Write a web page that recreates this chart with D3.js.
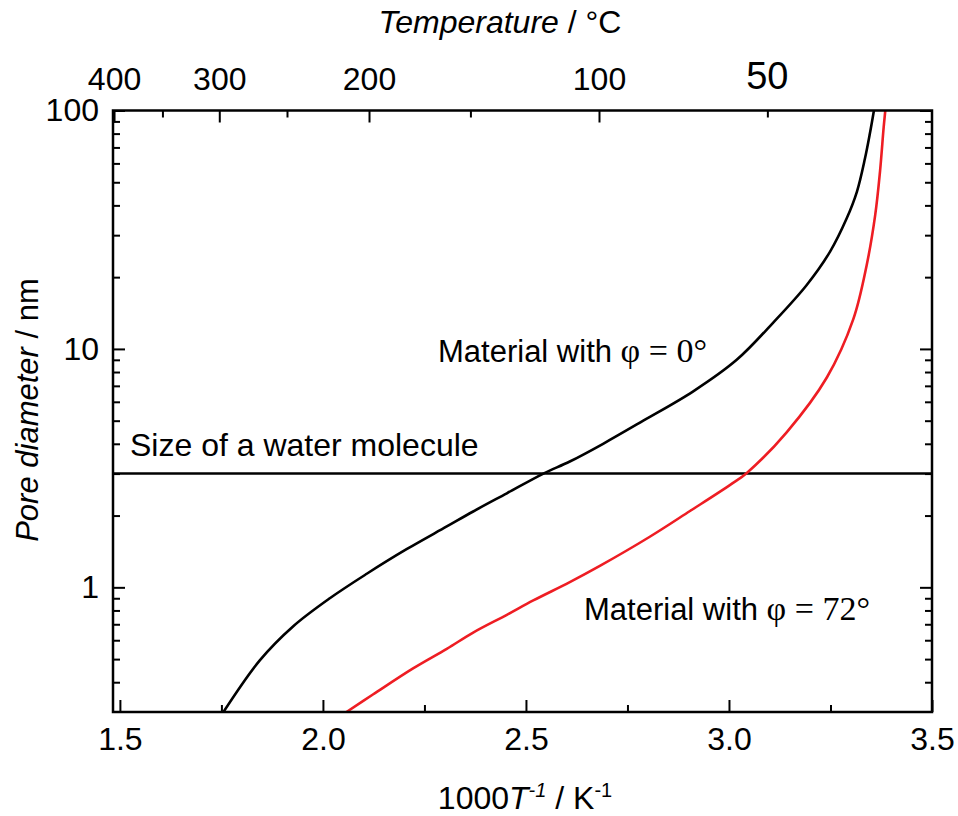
<!DOCTYPE html>
<html>
    <head>
        <title>Pore diameter vs temperature</title>
        <script src="https://d3js.org/d3.v7.min.js"></script>
        <style>
            body { margin: 0; background: #fff; }
            text { font-family: "Liberation Sans", Arial, sans-serif; fill: #000; }
            .serif { font-family: "Liberation Serif", "Times New Roman", serif; }
        </style>
    </head>
    <body>
        <svg id="myCanvas" width="958" height="816"></svg>

        <script>
            // data
            var xMajor = [1.5, 2.0, 2.5, 3.0, 3.5];
            var xMinor = [1.75, 2.25, 2.75, 3.25];
            var yMajor = [1, 10, 100];
            var yMinor = [0.4, 0.5, 0.6, 0.7, 0.8, 0.9, 2, 3, 4, 5, 6, 7, 8, 9, 20, 30, 40, 50, 60, 70, 80, 90];
            var tempMajor = [400, 300, 200, 100];
            var tempMinor = [350, 250, 150, 50];
            var waterSize = 3;

            // material with phi = 0 deg
            var blackX = [1.755, 1.845, 1.927, 2.017, 2.108, 2.206, 2.305, 2.370, 2.453, 2.543, 2.608, 2.690, 2.789, 2.912, 3.019, 3.109, 3.191, 3.249, 3.290, 3.315, 3.335, 3.347, 3.357];
            var blackY = [0.30, 0.495, 0.687, 0.90, 1.14, 1.445, 1.80, 2.08, 2.48, 3.0, 3.37, 4.0, 5.0, 6.64, 9.0, 12.9, 18.5, 25.6, 35.3, 45.6, 63, 80, 100];
            // material with phi = 72 deg
            var redX = [2.058, 2.124, 2.222, 2.305, 2.370, 2.453, 2.518, 2.608, 2.682, 2.805, 2.904, 3.003, 3.044, 3.142, 3.241, 3.306, 3.339, 3.360, 3.372, 3.381, 3.385];
            var redY = [0.30, 0.356, 0.457, 0.552, 0.646, 0.767, 0.881, 1.052, 1.23, 1.63, 2.09, 2.69, 3.02, 4.47, 7.59, 13.3, 22.4, 36.3, 55.6, 85.1, 100];

            var svg = d3.select("#myCanvas");
            var pLeft = 113, pRight = 932, pTop = 110.5, pBottom = 712;

            var x = d3.scaleLinear().domain([1.483, 3.5]).range([pLeft, pRight]);
            var y = d3.scaleLog().domain([0.3, 100]).range([pBottom, pTop]);
            var invT = t => 1000 / (t + 273.15);

            function styleAxis(g, size) {
                g.select(".domain").remove();
                g.selectAll("line").attr("stroke", "#000").attr("stroke-width", 2);
                g.selectAll("text").style("font-size", size + "px").style("font-family", "Liberation Sans, Arial, sans-serif");
            }

            // bottom
            svg.append("g").attr("transform", "translate(0," + pBottom + ")")
                .call(d3.axisBottom(x).tickValues(xMajor).tickSize(-12).tickPadding(15).tickFormat(d3.format(".1f")))
                .call(g => styleAxis(g, 32));
            svg.append("g").attr("transform", "translate(0," + pBottom + ")")
                .call(d3.axisBottom(x).tickValues(xMinor).tickSize(-7).tickFormat(""))
                .call(g => styleAxis(g, 32));

            // top (temperature)
            svg.append("g").attr("transform", "translate(0," + pTop + ")")
                .call(d3.axisTop(x).tickValues(tempMajor.map(invT)).tickSize(-12).tickPadding(21)
                    .tickFormat(v => Math.round(1000 / v - 273.15)))
                .call(g => styleAxis(g, 32));
            svg.append("g").attr("transform", "translate(0," + pTop + ")")
                .call(d3.axisTop(x).tickValues(tempMinor.map(invT)).tickSize(-7).tickFormat(""))
                .call(g => styleAxis(g, 32));
            svg.append("text")
                .attr("x", x(invT(50)))
                .attr("y", pTop - 22)
                .attr("text-anchor", "middle")
                .style("font-size", "38px")
                .text("50");

            // left
            svg.append("g").attr("transform", "translate(" + pLeft + ",0)")
                .call(d3.axisLeft(y).tickValues(yMajor).tickSize(-12).tickPadding(14).tickFormat(d3.format("d")))
                .call(g => styleAxis(g, 32));
            svg.append("g").attr("transform", "translate(" + pLeft + ",0)")
                .call(d3.axisLeft(y).tickValues(yMinor).tickSize(-7).tickFormat(""))
                .call(g => styleAxis(g, 32));

            // right
            svg.append("g").attr("transform", "translate(" + pRight + ",0)")
                .call(d3.axisRight(y).tickValues(yMajor).tickSize(-12).tickFormat(""))
                .call(g => styleAxis(g, 32));
            svg.append("g").attr("transform", "translate(" + pRight + ",0)")
                .call(d3.axisRight(y).tickValues(yMinor).tickSize(-7).tickFormat(""))
                .call(g => styleAxis(g, 32));

            // clip + curves
            svg.append("clipPath").attr("id", "plotClip")
                .append("rect")
                .attr("x", pLeft).attr("y", pTop)
                .attr("width", pRight - pLeft).attr("height", pBottom - pTop);

            var line = d3.line()
                .x(d => x(d[0]))
                .y(d => y(d[1]))
                .curve(d3.curveCatmullRom.alpha(0.5));

            var plot = svg.append("g").attr("clip-path", "url(#plotClip)");

            plot.append("line")
                .attr("x1", pLeft).attr("x2", pRight)
                .attr("y1", y(waterSize)).attr("y2", y(waterSize))
                .attr("stroke", "#000").attr("stroke-width", 2.5);

            plot.append("path")
                .datum(d3.zip(blackX, blackY))
                .attr("d", line)
                .attr("fill", "none").attr("stroke", "#000").attr("stroke-width", 2.6);

            plot.append("path")
                .datum(d3.zip(redX, redY))
                .attr("d", line)
                .attr("fill", "none").attr("stroke", "#ee1d23").attr("stroke-width", 2.6);

            // frame
            svg.append("rect")
                .attr("x", pLeft).attr("y", pTop)
                .attr("width", pRight - pLeft).attr("height", pBottom - pTop)
                .attr("fill", "none").attr("stroke", "#000").attr("stroke-width", 2.5);

            // titles
            var tt = svg.append("text").attr("x", 500).attr("y", 33)
                .attr("text-anchor", "middle").style("font-size", "32px");
            tt.append("tspan").style("font-style", "italic").text("Temperature");
            tt.append("tspan").text(" / °C");

            var xt = svg.append("text").attr("x", 525).attr("y", 809)
                .attr("text-anchor", "middle").style("font-size", "32px");
            xt.append("tspan").text("1000");
            xt.append("tspan").style("font-style", "italic").text("T");
            xt.append("tspan").attr("dy", -12).style("font-size", "20px").style("font-style", "italic").text("-1");
            xt.append("tspan").attr("dy", 12).text(" / K");
            xt.append("tspan").attr("dy", -12).style("font-size", "20px").text("-1");

            var yt = svg.append("text")
                .attr("transform", "translate(38,410) rotate(-90)")
                .attr("text-anchor", "middle").style("font-size", "31px");
            yt.append("tspan").style("font-style", "italic").text("Pore diameter");
            yt.append("tspan").text(" / nm");

            // annotations
            svg.append("text").attr("x", 130).attr("y", 456)
                .style("font-size", "32px").text("Size of a water molecule");

            var a1 = svg.append("text").attr("x", 438).attr("y", 362).style("font-size", "31px");
            a1.append("tspan").text("Material with ");
            a1.append("tspan").attr("class", "serif").style("font-size", "34px").text("φ = 0°");

            var a2 = svg.append("text").attr("x", 584).attr("y", 620).style("font-size", "31px");
            a2.append("tspan").text("Material with ");
            a2.append("tspan").attr("class", "serif").style("font-size", "34px").text("φ = 72°");
        </script>
    </body>
</html>
